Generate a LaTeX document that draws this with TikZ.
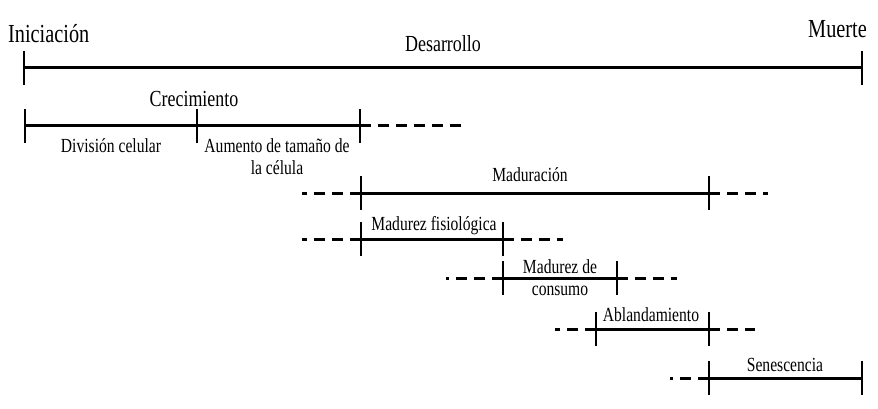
\documentclass[tikz,border=0pt]{standalone}
\usepackage{fontspec}
\setmainfont[FakeStretch=0.78]{Liberation Serif}
\usepackage{tikz}
\usetikzlibrary{positioning}

\begin{document}
\begin{tikzpicture}[
  x=1pt,y=-1pt,
  span/.style={line width=3pt},
  tick/.style={line width=2.5pt},
  ext/.style={line width=3pt,dash pattern=on 11pt off 7pt},
  big/.style={inner sep=0pt,font=\fontsize{26}{28}\selectfont},
  mid/.style={inner sep=0pt,font=\fontsize{23}{25}\selectfont},
  lbl/.style={inner sep=0pt,align=center,font=\fontsize{20}{22}\selectfont}
]
\useasboundingbox (0,0) rectangle (878,409);

% desarrollo
\coordinate (ini) at (24,68);
\coordinate (fin) at (862,68);
\node[big,anchor=base west] (tini) at (8,43) {Iniciación};
\node[big,anchor=base east] (tfin) at (867,38) {Muerte};
\node[mid,anchor=base] (tdes) at (443,52) {Desarrollo};
\draw[span] (ini) -- (fin);
\draw[tick] (ini) ++(0,-17) -- ++(0,34);
\draw[tick] (fin) ++(0,-17) -- ++(0,34);

% crecimiento
\coordinate (cre0) at (25,126);
\coordinate (cre1) at (197,126);
\coordinate (cre2) at (360,126);
\coordinate (creR) at (467,126);
\node[mid,anchor=base] (tcre) at (194,107) {Crecimiento};
\node[lbl,anchor=base] (tdiv) at (111,153) {División celular};
\node[lbl,anchor=base] (taum) at (277,175) {Aumento de tamaño de\\la célula};
\draw[span] (cre0) -- (cre2);
\draw[ext] (cre2) -- (creR);
\foreach \p in {cre0,cre1,cre2} \draw[tick] (\p) ++(0,-17) -- ++(0,34);

% maduracion
\coordinate (mad0) at (361,193);
\coordinate (mad1) at (709,193);
\coordinate (madL) at (302,193);
\coordinate (madR) at (768,193);
\node[lbl,anchor=base] (tmad) at (530,181) {Maduración};
\draw[span] (mad0) -- (mad1);
\draw[ext] (mad0) -- (madL);
\draw[ext] (mad1) -- (madR);
\foreach \p in {mad0,mad1} \draw[tick] (\p) ++(0,-17) -- ++(0,34);

% madurez fisiologica
\coordinate (fis0) at (361,239);
\coordinate (fis1) at (503,239);
\coordinate (fisL) at (302,239);
\coordinate (fisR) at (563,239);
\node[lbl,anchor=base] (tfis) at (434,230) {Madurez fisiológica};
\draw[span] (fis0) -- (fis1);
\draw[ext] (fis0) -- (fisL);
\draw[ext] (fis1) -- (fisR);
\foreach \p in {fis0,fis1} \draw[tick] (\p) ++(0,-17) -- ++(0,34);

% madurez de consumo
\coordinate (con0) at (503,278);
\coordinate (con1) at (617,278);
\coordinate (conL) at (446,278);
\coordinate (conR) at (677,278);
\node[lbl,anchor=base] (tcon) at (560,295) {Madurez de\\consumo};
\draw[span] (con0) -- (con1);
\draw[ext] (con0) -- (conL);
\draw[ext] (con1) -- (conR);
\foreach \p in {con0,con1} \draw[tick] (\p) ++(0,-17) -- ++(0,34);

% ablandamiento
\coordinate (abl0) at (596,329);
\coordinate (abl1) at (709,329);
\coordinate (ablL) at (555,329);
\coordinate (ablR) at (755,329);
\node[lbl,anchor=base] (tabl) at (651,321) {Ablandamiento};
\draw[span] (abl0) -- (abl1);
\draw[ext] (abl0) -- (ablL);
\draw[ext] (abl1) -- (ablR);
\foreach \p in {abl0,abl1} \draw[tick] (\p) ++(0,-17) -- ++(0,34);

% senescencia
\coordinate (sen0) at (709,378);
\coordinate (sen1) at (862,378);
\coordinate (senL) at (670,378);
\node[lbl,anchor=base] (tsen) at (785,371) {Senescencia};
\draw[span] (sen0) -- (sen1);
\draw[ext] (sen0) -- (senL);
\foreach \p in {sen0,sen1} \draw[tick] (\p) ++(0,-17) -- ++(0,34);
\end{tikzpicture}
\end{document}
